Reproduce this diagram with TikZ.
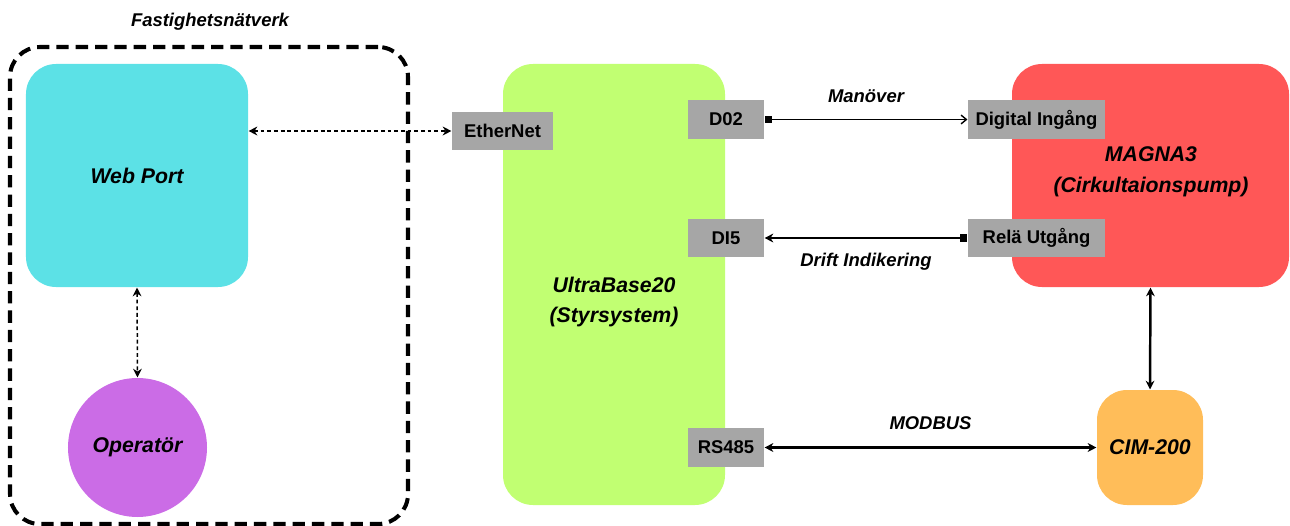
\documentclass[tikz,border=0pt]{standalone}
\usepackage{fontspec}
\setmainfont{Liberation Sans}
\usetikzlibrary{arrows.meta, positioning}
\definecolor{cyan1}{HTML}{5CE1E6}
\definecolor{green1}{HTML}{C1FF72}
\definecolor{red1}{HTML}{FF5757}
\definecolor{orange1}{HTML}{FFBD59}
\definecolor{purple1}{HTML}{CB6CE6}
\definecolor{gray1}{HTML}{A6A6A6}

\begin{document}
\begin{tikzpicture}[x=0.2mm,y=-0.2mm,>={Stealth[length=5pt,width=5pt]},semithick]
  \tikzstyle{block}=[rectangle,draw=none,rounded corners=6mm,inner sep=0pt,align=center,
                     font=\fontsize{12.1}{17.6}\selectfont\bfseries\itshape]
  \tikzstyle{port}=[rectangle,fill=gray1,draw=none,inner sep=0pt,minimum height=7.7mm,
                    font=\fontsize{10.5}{12}\selectfont\bfseries]
  \tikzstyle{lbl}=[font=\fontsize{10.5}{12}\selectfont\bfseries\itshape]
  \tikzstyle{dots}=[<->,line width=0.85pt,dash pattern=on 2.2pt off 1.6pt]
  \useasboundingbox (0,0) rectangle (1290,526);
  % network frame
  \node[rectangle,draw,line width=2.3pt,dash pattern=on 7pt off 4pt,rounded corners=6mm,
        minimum width=79.6mm,minimum height=95.4mm] (net) at (209,285.5) {};
  \node[lbl]           (nettitle) at (210, 22)     {Fastighetsn\"atverk};
  \node[block,fill=cyan1,minimum width=44.4mm,minimum height=44.6mm] (web) at (137, 175.5) {Web Port};
  \node[circle,fill=purple1,draw=none,inner sep=0pt,minimum size=27.8mm,
        font=\fontsize{12.1}{14}\selectfont\bfseries\itshape] (op) at (137.5, 447.5) {Operat\"or};
  % controller
  \node[block,fill=green1,minimum width=44.4mm,minimum height=88.2mm] (ub) at (614, 284.5) {};
  \node[block]         (ubtext) at (614, 302)      {UltraBase20\\(Styrsystem)};
  \node[port,minimum width=20.2mm] (eth) at (502.5, 131)   {EtherNet};
  \node[port,minimum width=15.2mm] (do) at (726, 119.5)    {D02};
  \node[port,minimum width=15.2mm] (di) at (726, 238)      {DI5};
  \node[port,minimum width=15.2mm] (rs) at (726, 447.5)    {RS485};
  % pump
  \node[block,fill=red1,minimum width=55.4mm,minimum height=44.6mm] (mag) at (1150.5, 175.5) {};
  \node[block]         (magtext) at (1151, 172)    {MAGNA3\\(Cirkultaionspump)};
  \node[port,minimum width=27.4mm] (din) at (1036.5, 119.5) {Digital Ing\aa ng};
  \node[port,minimum width=27.4mm] (rel) at (1036.5, 238)   {Rel\"a Utg\aa ng};
  \node[block,fill=orange1,minimum width=21.2mm,minimum height=23mm] (cim) at (1150, 447.5) {CIM-200};
  % connections
  \path (web.south) edge[dots] (op.north);
  \path (web.east |- eth.west) edge[dots] (eth.west);
  \draw[{Square[length=4pt,width=4pt]}-{Straight Barb[length=3pt,width=5pt]},line width=0.8pt] (do.east) -- node[lbl,above=6pt] {Man\"over} (din.west);
  \draw[{Square[length=4pt,width=4pt]}->,line width=0.8pt] (rel.west) -- node[lbl,below=5pt] {Drift Indikering} (di.east);
  \draw[<->,line width=1.4pt] (rs.east) -- node[lbl,above=6pt] {MODBUS} (cim.west);
  \draw[<->,line width=1.4pt] (mag.south) -- (cim.north);
\end{tikzpicture}
\end{document}
